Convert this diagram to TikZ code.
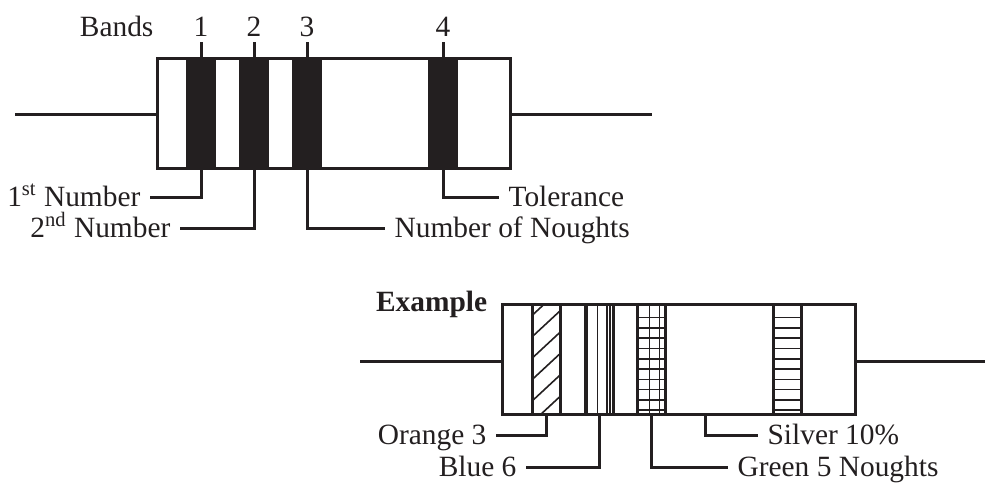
\documentclass[tikz,border=0pt]{standalone}
\usepackage{fontspec}
\setmainfont{Liberation Serif}
\definecolor{ink}{HTML}{231F20}
\tikzset{
  wire/.style={draw=ink,line width=1.5pt},
  body/.style={draw=ink,line width=1.5pt,minimum width=176.5pt,minimum height=55pt,inner sep=0pt,outer sep=0pt},
  solidband/.style={fill=ink,minimum width=15pt,minimum height=55pt,inner sep=0pt,outer sep=0pt},
  openband/.style={draw=ink,line width=1.5pt,minimum width=14pt,minimum height=55pt,inner sep=0pt,outer sep=0pt},
  txt/.style={font=\fontsize{14.7}{16}\selectfont,text=ink,inner xsep=4.8pt,inner ysep=2pt,outer sep=0pt,text height=10pt,text depth=1pt},
  thin/.style={draw=ink,line width=0.8pt},
  orangeband/.style={path picture={
    \foreach \k in {0,...,5}
      \draw[thin] ([yshift=\k*10.7pt-4pt]path picture bounding box.south west) -- ++(14pt,13pt);}},
  blueband/.style={path picture={
    \foreach \k in {1.2,6.2,11,12.5}
      \draw[thin] ([xshift=\k pt]path picture bounding box.south west) -- ++(0,55pt);}},
  greenband/.style={path picture={
    \foreach \k in {6,11}
      \draw[thin] ([xshift=\k pt]path picture bounding box.south west) -- ++(0,55pt);
    \foreach \k in {1,...,10}
      \draw[thin] ([yshift=\k*5.15pt-3pt]path picture bounding box.south west) -- ++(14pt,0);}},
  silverband/.style={path picture={
    \foreach \k in {1,...,10}
      \draw[thin] ([yshift=\k*5.15pt-3pt]path picture bounding box.south west) -- ++(14pt,0);}},
}
\begin{document}
\begin{tikzpicture}[x=0.5pt,y=-0.5pt]
  \useasboundingbox (0,0) rectangle (985,483);
  % top resistor
  \node[body] (rtop) at (333.5,113) {};
  \coordinate (lefttop) at (15,114);
  \coordinate (righttop) at (652,114);
  \draw[wire] (lefttop) -- (lefttop-|rtop.west);
  \draw[wire] (righttop-|rtop.east) -- (righttop);
  \foreach \name/\xpos in {a/201,b/254,c/307,d/443}
    \node[solidband] (band\name) at (\xpos,113) {};
  \node[txt,anchor=south] (numa) at (201,42) {1};
  \node[txt,anchor=south] (numb) at (254,42) {2};
  \node[txt,anchor=south] (numc) at (307,42) {3};
  \node[txt,anchor=south] (numd) at (443,42) {4};
  \node[txt,anchor=east] (bands) at (163,27) {Bands};
  \foreach \name in {a,b,c,d}
    \draw[wire] (num\name.south) -- (band\name.north);
  \node[txt,anchor=east] (first) at (150,197) {1\textsuperscript{st} Number};
  \node[txt,anchor=east] (second) at (180,228) {2\textsuperscript{nd} Number};
  \node[txt,anchor=west] (noughts) at (385,228) {Number of Noughts};
  \node[txt,anchor=west] (tol) at (499,197) {Tolerance};
  \draw[wire] (banda.south) |- (first.east);
  \draw[wire] (bandb.south) |- (second.east);
  \draw[wire] (bandc.south) |- (noughts.west);
  \draw[wire] (bandd.south) |- (tol.west);
  % example resistor
  \node[body] (rex) at (678.5,359.5) {};
  \coordinate (leftex) at (360,361);
  \coordinate (rightex) at (985,361);
  \draw[wire] (leftex) -- (leftex-|rex.west);
  \draw[wire] (rightex-|rex.east) -- (rightex);
  \node[openband,orangeband] (orange) at (546,359.5) {};
  \node[openband,blueband] (blue) at (599,359.5) {};
  \node[openband,greenband] (green) at (651.5,359.5) {};
  \node[openband,silverband] (silver) at (787.5,359.5) {};
  \node[txt,anchor=west,inner xsep=0pt,font=\fontsize{14.7}{16}\selectfont\bfseries] (example) at (376,302) {Example};
  \coordinate (silvertap) at (705,414);
  \node[txt,anchor=east] (lorange) at (496,435) {Orange 3};
  \node[txt,anchor=east] (lblue) at (526,467) {Blue 6};
  \node[txt,anchor=west] (lgreen) at (728,467) {Green 5 Noughts};
  \node[txt,anchor=west] (lsilver) at (758,435) {Silver 10\%};
  \draw[wire] (orange.south) |- (lorange.east);
  \draw[wire] (blue.south) |- (lblue.east);
  \draw[wire] (green.south) |- (lgreen.west);
  \draw[wire] (silvertap) |- (lsilver.west);
\end{tikzpicture}
\end{document}
